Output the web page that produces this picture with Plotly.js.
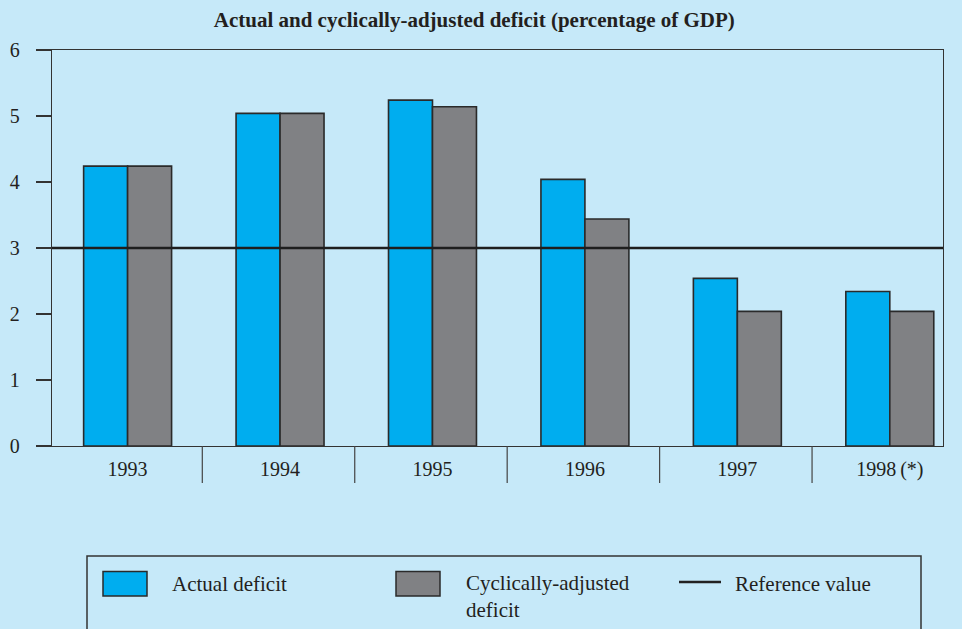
<!DOCTYPE html>
<html>
<head>
<meta charset="utf-8">
<script src="https://cdn.plot.ly/plotly-3.0.1.min.js"></script>
<style>
  html, body { margin: 0; padding: 0; background: #c6e9f9; }
  #chart { width: 962px; height: 629px; }
</style>
</head>
<body>
<div id="chart"></div>
<script>
// ---- data ----
const years = ['1993', '1994', '1995', '1996', '1997', '1998\u2009(*)'];
const actualDeficit = [4.24, 5.04, 5.24, 4.04, 2.54, 2.34];
const cyclicallyAdjusted = [4.24, 5.04, 5.14, 3.44, 2.04, 2.04];
const referenceValue = 3;
const seriesNames = ['Actual deficit', 'Cyclically-adjusted<br>deficit', 'Reference value'];
const yTicks = [0, 1, 2, 3, 4, 5, 6];
const chartTitle = 'Actual and cyclically-adjusted deficit (percentage of GDP)';

// ---- style ----
const BG = '#c6e9f9';
const BLUE = '#00adef';
const GREY = '#808184';
const EDGE = '#2a2a2a';
const TXT = '#231f20';
const FONT = '"Liberation Serif", "Times New Roman", serif';

// plot-area geometry in pixels (for converting legend decorations to paper coords)
const W = 962, H = 629;
const M = { l: 52, r: 19, t: 50, b: 183 };
const pw = W - M.l - M.r, ph = H - M.t - M.b;
const px = x => (x - M.l) / pw;
const py = y => (H - M.b - y) / ph;

const traces = [
  {
    type: 'bar', x: years, y: actualDeficit, name: seriesNames[0],
    marker: { color: BLUE, line: { color: EDGE, width: 1.6 } },
    hoverinfo: 'x+y'
  },
  {
    type: 'bar', x: years, y: cyclicallyAdjusted, name: seriesNames[1],
    marker: { color: GREY, line: { color: EDGE, width: 1.6 } },
    hoverinfo: 'x+y'
  }
];

const shapes = [
  // reference value line
  { type: 'line', xref: 'paper', yref: 'y', x0: 0, x1: 1, y0: referenceValue, y1: referenceValue,
    line: { color: '#1e1e1e', width: 2.5 }, layer: 'above' }
];
// category dividers below the axis
for (let i = 0; i < years.length - 1; i++) {
  shapes.push({ type: 'line', xref: 'x', yref: 'paper', x0: i + 0.49, x1: i + 0.49,
    y0: 0, y1: py(483), line: { color: '#444', width: 1.2 } });
}
// custom legend
shapes.push({ type: 'rect', xref: 'paper', yref: 'paper', x0: px(87), x1: px(921), y0: py(556), y1: py(660),
  line: { color: '#333', width: 1.5 }, fillcolor: 'rgba(0,0,0,0)' });
shapes.push({ type: 'rect', xref: 'paper', yref: 'paper', x0: px(103), x1: px(147), y0: py(571.5), y1: py(596),
  line: { color: EDGE, width: 1.5 }, fillcolor: BLUE });
shapes.push({ type: 'rect', xref: 'paper', yref: 'paper', x0: px(396), x1: px(440), y0: py(571.5), y1: py(596),
  line: { color: EDGE, width: 1.5 }, fillcolor: GREY });
shapes.push({ type: 'line', xref: 'paper', yref: 'paper', x0: px(679), x1: px(721), y0: py(582), y1: py(582),
  line: { color: '#222', width: 2.5 } });

const legendFont = { family: FONT, size: 21, color: TXT };
const annotations = [
  { xref: 'paper', yref: 'paper', x: px(170), y: py(584), xanchor: 'left', yanchor: 'middle',
    text: seriesNames[0], showarrow: false, font: legendFont },
  { xref: 'paper', yref: 'paper', x: px(464), y: py(569), xanchor: 'left', yanchor: 'top',
    text: seriesNames[1], showarrow: false, font: legendFont, align: 'left' },
  { xref: 'paper', yref: 'paper', x: px(733), y: py(584), xanchor: 'left', yanchor: 'middle',
    text: seriesNames[2], showarrow: false, font: legendFont }
];

const layout = {
  width: W, height: H,
  margin: M,
  paper_bgcolor: BG, plot_bgcolor: BG,
  font: { family: FONT, size: 20, color: TXT },
  showlegend: false,
  title: {
    text: '<b>' + chartTitle + '</b>',
    font: { family: FONT, size: 21, color: TXT },
    xref: 'container', x: 0.493, xanchor: 'center',
    yref: 'container', y: 1 - 20 / H, yanchor: 'middle'
  },
  barmode: 'group', bargap: 0.423, bargroupgap: 0,
  xaxis: {
    type: 'category', range: [-0.496, 5.349],
    showline: true, mirror: true, linecolor: '#333', linewidth: 1.2,
    ticks: '', showgrid: false, zeroline: false,
    tickfont: { family: FONT, size: 20, color: TXT },
    ticklabelstandoff: 5, fixedrange: true
  },
  yaxis: {
    range: [0, 6], tickvals: yTicks,
    showline: true, mirror: true, linecolor: '#333', linewidth: 1.2,
    ticks: 'outside', ticklen: 15, tickcolor: '#333', tickwidth: 1.2,
    showgrid: false, zeroline: false,
    tickfont: { family: FONT, size: 20, color: TXT },
    ticklabelstandoff: 12, fixedrange: true
  },
  shapes: shapes,
  annotations: annotations
};

Plotly.newPlot('chart', traces, layout, { displayModeBar: false, staticPlot: true });
</script>
</body>
</html>
